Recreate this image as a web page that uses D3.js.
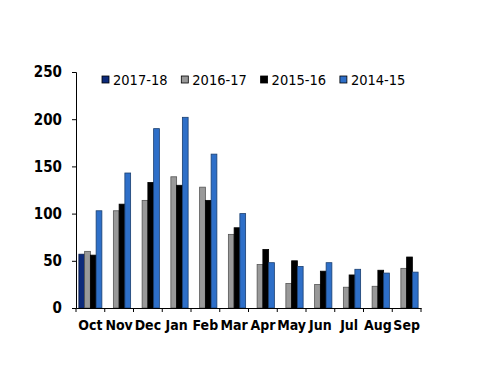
<!DOCTYPE html>
<html><head><meta charset="utf-8">
<script src="https://cdn.jsdelivr.net/npm/d3@7"></script>
<style>body{margin:0;background:#fff}</style>
</head><body>
<script>
const months = ["Oct","Nov","Dec","Jan","Feb","Mar","Apr","May","Jun","Jul","Aug","Sep"];
const seriesNames = ["2017-18","2016-17","2015-16","2014-15"];
const colors = ["#0d2a7a","#999999","#000000","#2e6fc8"];
const strokes = ["#0a1c4a","#555555","#000000","#1a3f70"];
const s2017_18 = [57,null,null,null,null,null,null,null,null,null,null,null];
const s2016_17 = [60,103,114,139,128,78,46,26,25,22,23,42];
const s2015_16 = [56,110,133,130,114,85,62,50,39,35,40,54];
const s2014_15 = [103,143,190,202,163,100,48,44,48,41,37,38];
const yTicks = [0,50,100,150,200,250];

const allSeries = [s2017_18,s2016_17,s2015_16,s2014_15];
const W=500,H=386;
const margin={left:76,right:79,top:72,bottom:78};
const svg=d3.select("body").append("svg").attr("width",W).attr("height",H);
const x0=d3.scaleBand().domain(months).range([margin.left,W-margin.right]).padding(0);
const x1=d3.scaleBand().domain(seriesNames).range([0,x0.bandwidth()]).paddingInner(0).paddingOuter(0.5);
const y=d3.scaleLinear().domain([0,250]).range([H-margin.bottom,margin.top]);

const font="'DejaVu Sans Condensed','DejaVu Sans',sans-serif";

seriesNames.forEach((name,si)=>{
  const data=months.map((m,i)=>({m,v:allSeries[si][i]})).filter(d=>d.v!=null);
  svg.append("g").selectAll("rect").data(data).join("rect")
    .attr("x",d=>x0(d.m)+x1(name))
    .attr("y",d=>y(d.v))
    .attr("width",x1.bandwidth())
    .attr("height",d=>y(0)-y(d.v))
    .attr("fill",colors[si])
    .attr("stroke",strokes[si])
    .attr("stroke-width",0.8);
});

// y axis
const ya=svg.append("g").attr("transform",`translate(${margin.left},0)`)
  .call(d3.axisLeft(y).tickValues(yTicks).tickSize(4).tickPadding(10));
ya.select(".domain").attr("stroke","#000");
ya.selectAll("text").attr("font-family",font).attr("font-weight","bold").attr("font-size","15px").attr("fill","#000");

// x axis
const xa=svg.append("g").attr("transform",`translate(0,${y(0)})`)
  .call(d3.axisBottom(x0).tickSize(0).tickPadding(12));
xa.select(".domain").attr("stroke","#000");
xa.selectAll("text").attr("font-family",font).attr("font-weight","bold").attr("font-size","14px").attr("fill","#000");
// boundary tick marks
const bounds=months.map(m=>x0(m)).concat([x0(months[months.length-1])+x0.bandwidth()]);
svg.append("g").selectAll("line").data(bounds).join("line")
  .attr("x1",d=>d).attr("x2",d=>d).attr("y1",y(0)).attr("y2",y(0)+4).attr("stroke","#000");

// legend
const lg=svg.append("g").attr("transform","translate(102,0)");
seriesNames.forEach((name,i)=>{
  const g=lg.append("g").attr("transform",`translate(${i*79.3},0)`);
  g.append("rect").attr("x",0).attr("y",76).attr("width",7).attr("height",7)
    .attr("fill",colors[i]).attr("stroke","#000").attr("stroke-width",0.8);
  g.append("text").attr("x",11).attr("y",84.5).text(name)
    .attr("font-family",font).attr("font-size","14.5px").attr("fill","#000");
});
</script>
</body></html>
